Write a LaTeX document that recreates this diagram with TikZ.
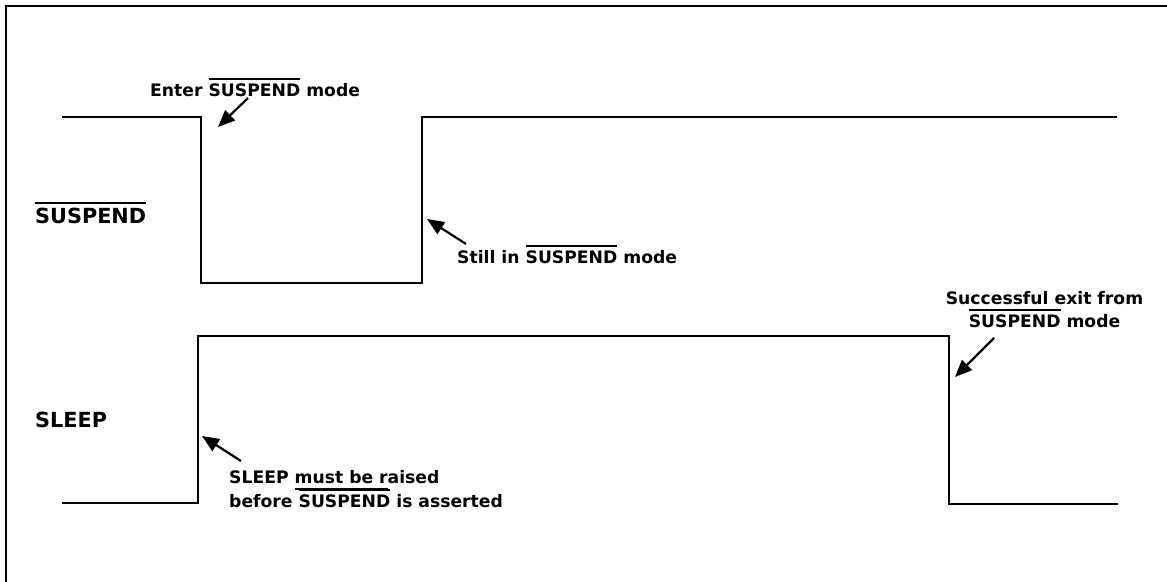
\documentclass[tikz,border=0pt]{standalone}
\usepackage{fontspec}
\setmainfont{DejaVu Sans}
\usetikzlibrary{arrows.meta}
\newcommand\ovl[1]{\setbox0\hbox{#1}\rlap{\rule[\dimexpr\ht0+3.6pt\relax]{\wd0}{1.6pt}}\box0\relax}
\newcommand\myul[1]{\setbox0\hbox{#1}\rlap{\rule[-6.6pt]{\wd0}{1.6pt}}\box0\relax}
\tikzset{
  sig/.style={line width=2pt, line join=miter},
  note/.style={inner sep=0pt, anchor=base west, font=\fontsize{17.2pt}{20pt}\selectfont\bfseries},
  siglabel/.style={inner sep=0pt, anchor=base west, font=\fontsize{20.8pt}{24pt}\selectfont\bfseries},
  pointer/.style={line width=2.2pt, -{Triangle[length=17pt,width=14pt]}}
}
\begin{document}
\begin{tikzpicture}[x=1pt,y=-1pt]
\useasboundingbox (0,0) rectangle (1167,581);
\draw[line width=2pt] (6,6) rectangle (1200,620);
% signals
\draw[sig] (62,117) -- (201,117) -- (201,283) -- (422,283) -- (422,117) -- (1117,117);
\draw[sig] (62,503) -- (198,503) -- (198,336) -- (949,336) -- (949,504) -- (1118,504);
% labels
\node[siglabel] (suslbl) at (35,223) {\ovl{SUSPEND}};
\node[siglabel] (sleeplbl) at (35,427) {SLEEP};
\node[note] (enter) at (150,96) {Enter \ovl{SUSPEND} mode};
\node[note] (still) at (457,263) {Still in \ovl{SUSPEND} mode};
\node[note] (sn1) at (229,483) {SLEEP \myul{must be r}aised};
\node[note] (sn2) at (229,507) {before \ovl{SUSPEND} is asserted};
\node[note, anchor=base] (ex1) at (1044.5,304) {Successful exit from};
\node[note, anchor=base] (ex2) at (1044.5,327) {\ovl{SUSPEND} mode};
% arrows
\coordinate (a1t) at (248,98);  \coordinate (a1h) at (218,127);
\coordinate (a2t) at (466,244); \coordinate (a2h) at (427,219);
\coordinate (a3t) at (241,461); \coordinate (a3h) at (202,436);
\coordinate (a4t) at (994,338); \coordinate (a4h) at (955,377);
\draw[pointer] (a1t) -- (a1h);
\draw[pointer] (a2t) -- (a2h);
\draw[pointer] (a3t) -- (a3h);
\draw[pointer] (a4t) -- (a4h);
\end{tikzpicture}
\end{document}
